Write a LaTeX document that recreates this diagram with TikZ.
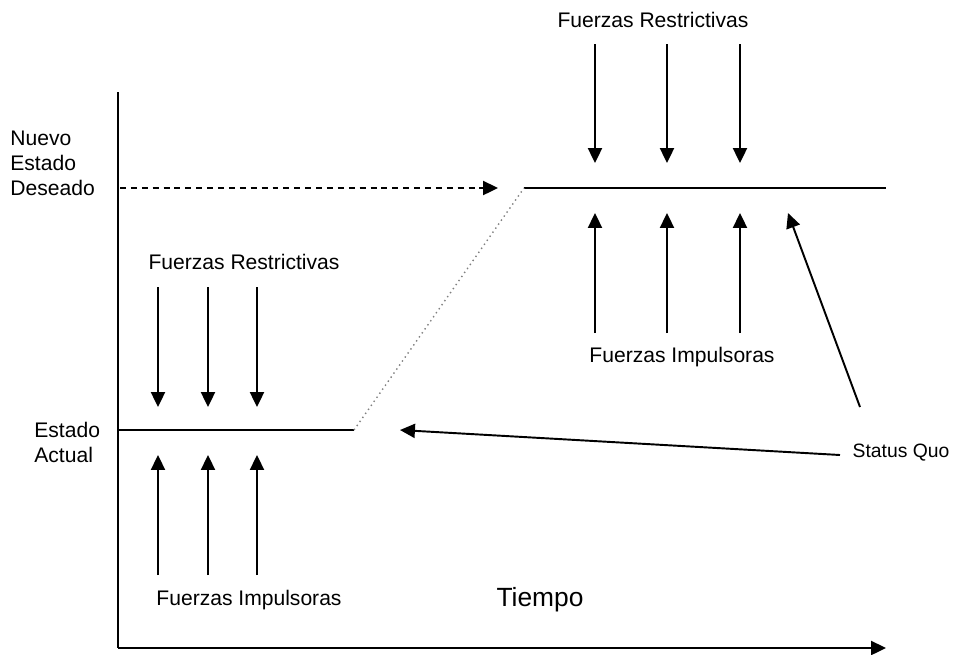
\documentclass[tikz,border=0pt]{standalone}
\usepackage{fontspec}
\setmainfont{Liberation Sans}
\usetikzlibrary{arrows.meta}
\tikzset{
  flecha/.style={line width=1.1pt,-{Triangle[width=8pt,length=8.5pt]}},
  rotulo/.style={font=\fontsize{12}{14.2}\selectfont,inner sep=0pt}
}
\begin{document}
\begin{tikzpicture}[x=0.02cm,y=-0.02cm]
\useasboundingbox (0,0) rectangle (964,654);
% ejes
\coordinate (origen) at (118,648);
\coordinate (ytop) at (118,92);
\coordinate (xfin) at (886,648);
\draw[line width=1.1pt] (ytop) -- (origen);
\draw[flecha] (origen) -- (xfin);
\node[font=\fontsize{15}{18}\selectfont,inner sep=0pt] (tiempo) at (540,600) {Tiempo};
% estados
\node[rotulo,anchor=west,align=left] (nuevo) at (10,163) {Nuevo\\Estado\\Deseado};
\node[rotulo,anchor=west,align=left] (actual) at (34,442) {Estado\\Actual};
\coordinate (a1) at (118,430);
\coordinate (a2) at (354,430);
\coordinate (d0) at (120,188);
\coordinate (d1) at (498,188);
\coordinate (n1) at (524,188);
\coordinate (n2) at (886,188);
\draw[line width=1.1pt] (a1) -- (a2);
\draw[line width=1.1pt] (n1) -- (n2);
\draw[gray,dotted,line width=0.8pt] (a2) -- (n1);
\draw[flecha,dash pattern=on 3.4pt off 2.8pt] (d0) -- (d1);
% fuerzas izquierda
\node[rotulo] (resIzq) at (244,262) {Fuerzas Restrictivas};
\node[rotulo] (impIzq) at (249,600) {Fuerzas Impulsoras};
\draw[flecha] (158,287) -- (158,407);
\draw[flecha] (208,287) -- (208,407);
\draw[flecha] (257,287) -- (257,407);
\draw[flecha] (158,575) -- (158,455);
\draw[flecha] (208,575) -- (208,455);
\draw[flecha] (257,575) -- (257,455);
% fuerzas derecha
\node[rotulo] (resDer) at (653,20) {Fuerzas Restrictivas};
\node[rotulo] (impDer) at (682,357) {Fuerzas Impulsoras};
\draw[flecha] (595,44) -- (595,163);
\draw[flecha] (667,44) -- (667,163);
\draw[flecha] (740,44) -- (740,163);
\draw[flecha] (595,333) -- (595,213);
\draw[flecha] (667,333) -- (667,213);
\draw[flecha] (740,333) -- (740,213);
% status quo
\node[rotulo,font=\fontsize{11}{13}\selectfont] (status) at (901,453) {Status Quo};
\coordinate (sq1) at (860,407);
\coordinate (sq1fin) at (788,213);
\coordinate (sq2) at (840,455);
\coordinate (sq2fin) at (400,430);
\draw[flecha] (sq1) -- (sq1fin);
\draw[flecha] (sq2) -- (sq2fin);
\end{tikzpicture}
\end{document}
